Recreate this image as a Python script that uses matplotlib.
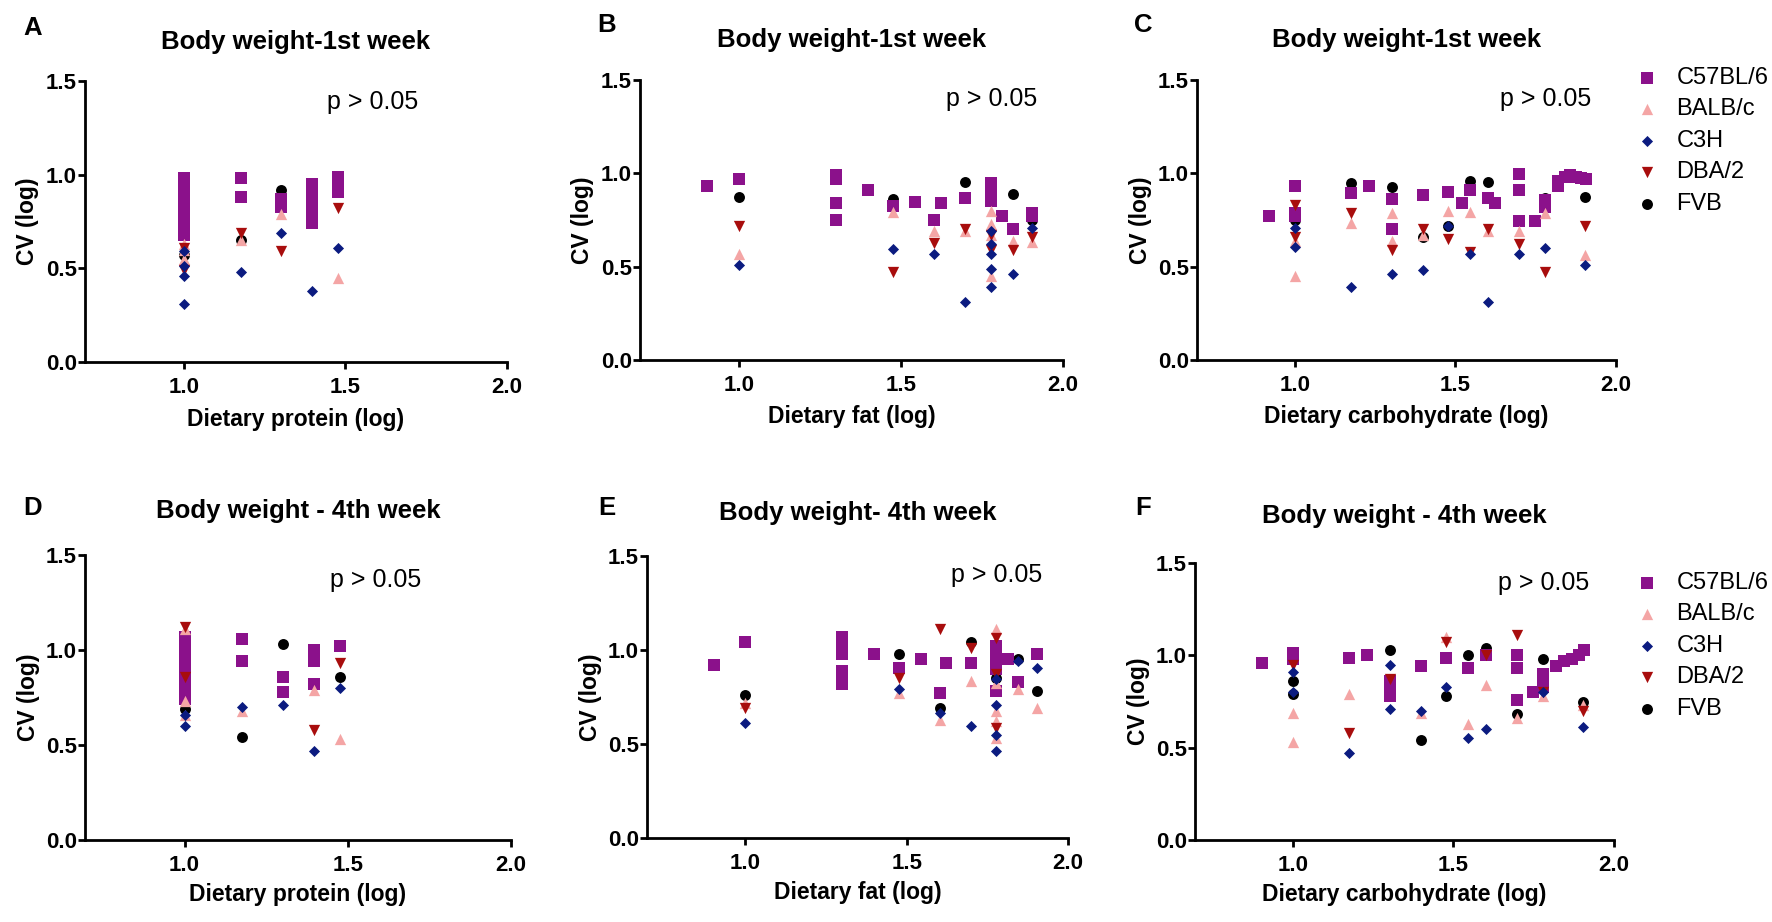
import matplotlib
matplotlib.use("Agg")
import matplotlib.pyplot as plt

plt.rcParams['font.family'] = ['Liberation Sans', 'DejaVu Sans']

W, H = 1772, 922

strains = ["C57BL/6", "BALB/c", "C3H", "DBA/2", "FVB"]
colors = {"C57BL/6": "#8B118B", "BALB/c": "#F4A5A5", "C3H": "#0B1B80",
          "DBA/2": "#A80D0D", "FVB": "#000000"}
markers = {"C57BL/6": "s", "BALB/c": "^", "C3H": "D", "DBA/2": "v", "FVB": "o"}
sizes = {"C57BL/6": 66, "BALB/c": 66, "C3H": 32, "DBA/2": 66, "FVB": 62}
zorders = {"FVB": 2, "C57BL/6": 3, "BALB/c": 4, "DBA/2": 5, "C3H": 6}

titles = ["Body weight-1st week", "Body weight-1st week", "Body weight-1st week",
          "Body weight - 4th week", "Body weight- 4th week", "Body weight - 4th week"]
xlabels = ["Dietary protein (log)", "Dietary fat (log)", "Dietary carbohydrate (log)",
           "Dietary protein (log)", "Dietary fat (log)", "Dietary carbohydrate (log)"]
letters = ["A", "B", "C", "D", "E", "F"]
p_text = "p > 0.05"
xticks = [1.0, 1.5, 2.0]
yticks = [0.0, 0.5, 1.0, 1.5]

# ---------------- Panel A (protein, week 1) ----------------
A_C57 = [(1.0, 0.98), (1.0, 0.95), (1.0, 0.92), (1.0, 0.89), (1.0, 0.86), (1.0, 0.83),
         (1.0, 0.80), (1.0, 0.77), (1.0, 0.74), (1.0, 0.71), (1.0, 0.68),
         (1.176, 0.98), (1.176, 0.88), (1.301, 0.87), (1.301, 0.83),
         (1.398, 0.95), (1.398, 0.92), (1.398, 0.89), (1.398, 0.86), (1.398, 0.83),
         (1.398, 0.80), (1.398, 0.77), (1.398, 0.74),
         (1.477, 0.99), (1.477, 0.96), (1.477, 0.93), (1.477, 0.91)]
A_BALB = [(1.0, 0.63), (1.0, 0.60), (1.0, 0.55), (1.176, 0.65), (1.301, 0.79), (1.477, 0.45)]
A_C3H = [(1.0, 0.59), (1.0, 0.51), (1.0, 0.46), (1.0, 0.31), (1.176, 0.48), (1.301, 0.69),
         (1.398, 0.38), (1.477, 0.61)]
A_DBA = [(1.0, 0.61), (1.0, 0.49), (1.176, 0.69), (1.301, 0.59), (1.477, 0.82)]
A_FVB = [(1.0, 0.57), (1.176, 0.65), (1.301, 0.92)]

# ---------------- Panel B (fat, week 1) ----------------
B_C57 = [(0.903, 0.93), (1.0, 0.97), (1.301, 0.99), (1.301, 0.97), (1.301, 0.84), (1.301, 0.75),
         (1.398, 0.91), (1.477, 0.825), (1.544, 0.845), (1.602, 0.75), (1.623, 0.84),
         (1.699, 0.87), (1.778, 0.95), (1.778, 0.93), (1.778, 0.91), (1.778, 0.89),
         (1.778, 0.87), (1.778, 0.85), (1.813, 0.77), (1.845, 0.70), (1.903, 0.785), (1.903, 0.77)]
B_BALB = [(1.0, 0.566), (1.477, 0.795), (1.602, 0.69), (1.699, 0.69), (1.778, 0.80),
          (1.778, 0.73), (1.778, 0.67), (1.778, 0.45), (1.845, 0.64), (1.903, 0.63)]
B_C3H = [(1.0, 0.51), (1.477, 0.595), (1.602, 0.57), (1.699, 0.31), (1.778, 0.69),
         (1.778, 0.62), (1.778, 0.57), (1.778, 0.49), (1.778, 0.39), (1.845, 0.46), (1.903, 0.705)]
B_DBA = [(1.0, 0.72), (1.477, 0.47), (1.602, 0.625), (1.699, 0.70), (1.778, 0.67),
         (1.778, 0.59), (1.845, 0.59), (1.903, 0.66)]
B_FVB = [(1.0, 0.875), (1.477, 0.86), (1.699, 0.955), (1.778, 0.955), (1.845, 0.89), (1.903, 0.75)]

# ---------------- Panel C (carbohydrate, week 1) ----------------
C_C57 = [(0.92, 0.77), (1.0, 0.93), (1.0, 0.785), (1.0, 0.77), (1.176, 0.896), (1.23, 0.934),
         (1.301, 0.86), (1.301, 0.70), (1.398, 0.884), (1.477, 0.90), (1.52, 0.84),
         (1.544, 0.91), (1.602, 0.87), (1.623, 0.84), (1.699, 0.995), (1.699, 0.91),
         (1.699, 0.745), (1.748, 0.745), (1.778, 0.857), (1.778, 0.82), (1.82, 0.93),
         (1.82, 0.96), (1.84, 0.98), (1.857, 0.99), (1.875, 0.98), (1.89, 0.975), (1.908, 0.97)]
C_BALB = [(1.0, 0.635), (1.0, 0.45), (1.176, 0.735), (1.301, 0.79), (1.301, 0.64), (1.398, 0.67),
          (1.477, 0.80), (1.544, 0.795), (1.602, 0.69), (1.699, 0.69), (1.778, 0.79), (1.903, 0.56)]
C_C3H = [(1.0, 0.705), (1.0, 0.607), (1.176, 0.39), (1.301, 0.46), (1.398, 0.48), (1.477, 0.72),
         (1.544, 0.57), (1.602, 0.31), (1.699, 0.57), (1.778, 0.60), (1.903, 0.51)]
C_DBA = [(1.0, 0.83), (1.0, 0.66), (1.176, 0.79), (1.301, 0.59), (1.398, 0.70), (1.477, 0.65),
         (1.544, 0.58), (1.602, 0.70), (1.699, 0.62), (1.778, 0.47), (1.903, 0.72)]
C_FVB = [(1.0, 0.75), (1.176, 0.946), (1.301, 0.925), (1.398, 0.657), (1.477, 0.72),
         (1.544, 0.96), (1.602, 0.955), (1.778, 0.87), (1.903, 0.875)]

# ---------------- Panel D (protein, week 4) ----------------
D_C57 = [(1.0, 1.07), (1.0, 1.04), (1.0, 1.01), (1.0, 0.98), (1.0, 0.95), (1.0, 0.92),
         (1.0, 0.89), (1.0, 0.86), (1.0, 0.83), (1.0, 0.80), (1.0, 0.77), (1.0, 0.74),
         (1.176, 1.06), (1.176, 0.94), (1.301, 0.86), (1.301, 0.78),
         (1.398, 1.00), (1.398, 0.97), (1.398, 0.94), (1.398, 0.82), (1.477, 1.02)]
D_BALB = [(1.0, 1.11), (1.0, 0.73), (1.0, 0.66), (1.176, 0.68), (1.398, 0.79), (1.477, 0.53)]
D_C3H = [(1.0, 0.60), (1.0, 0.66), (1.176, 0.70), (1.301, 0.71), (1.398, 0.47), (1.477, 0.80)]
D_DBA = [(1.0, 1.12), (1.0, 0.86), (1.398, 0.58), (1.477, 0.93)]
D_FVB = [(1.0, 0.69), (1.176, 0.54), (1.301, 1.03), (1.477, 0.86)]

# ---------------- Panel E (fat, week 4) ----------------
E_C57 = [(0.903, 0.92), (1.0, 1.04), (1.301, 1.07), (1.301, 1.04), (1.301, 1.01), (1.301, 0.98),
         (1.301, 0.89), (1.301, 0.86), (1.301, 0.82), (1.398, 0.98), (1.477, 0.905),
         (1.544, 0.95), (1.602, 0.77), (1.623, 0.93), (1.699, 0.93), (1.778, 1.02),
         (1.778, 0.99), (1.778, 0.96), (1.778, 0.93), (1.778, 0.90), (1.778, 0.78),
         (1.813, 0.95), (1.845, 0.83), (1.903, 0.977)]
E_BALB = [(1.0, 0.72), (1.477, 0.77), (1.602, 0.63), (1.699, 0.835), (1.778, 1.11),
          (1.778, 0.826), (1.778, 0.675), (1.778, 0.62), (1.778, 0.53), (1.845, 0.79), (1.903, 0.69)]
E_C3H = [(1.0, 0.61), (1.477, 0.79), (1.602, 0.665), (1.699, 0.595), (1.778, 0.845),
         (1.778, 0.71), (1.778, 0.55), (1.778, 0.465), (1.845, 0.94), (1.903, 0.905)]
E_DBA = [(1.0, 0.69), (1.477, 0.85), (1.602, 1.11), (1.699, 1.01), (1.778, 1.065),
         (1.778, 0.87), (1.778, 0.585)]
E_FVB = [(1.0, 0.76), (1.477, 0.98), (1.602, 0.69), (1.699, 1.04), (1.778, 0.85),
         (1.845, 0.95), (1.903, 0.78)]

# ---------------- Panel F (carbohydrate, week 4) ----------------
F_C57 = [(0.903, 0.96), (1.0, 1.01), (1.0, 0.98), (1.176, 0.985), (1.23, 1.0), (1.301, 0.86),
         (1.301, 0.82), (1.301, 0.78), (1.398, 0.94), (1.477, 0.985), (1.544, 0.93),
         (1.602, 1.0), (1.699, 1.0), (1.699, 0.93), (1.699, 0.76), (1.748, 0.80),
         (1.778, 0.90), (1.778, 0.85), (1.778, 0.83), (1.82, 0.94), (1.845, 0.97),
         (1.87, 0.98), (1.89, 1.0), (1.908, 1.03)]
F_BALB = [(1.0, 0.69), (1.0, 0.53), (1.176, 0.79), (1.398, 0.69), (1.477, 1.10), (1.544, 0.63),
          (1.602, 0.84), (1.699, 0.66), (1.778, 0.78), (1.903, 0.73)]
F_C3H = [(1.0, 0.91), (1.0, 0.80), (1.176, 0.47), (1.301, 0.95), (1.301, 0.71), (1.398, 0.70),
         (1.477, 0.83), (1.544, 0.55), (1.602, 0.60), (1.778, 0.80), (1.903, 0.61)]
F_DBA = [(1.0, 0.95), (1.176, 0.58), (1.301, 0.87), (1.477, 1.07), (1.602, 1.0), (1.699, 1.11),
         (1.778, 0.80), (1.903, 0.70)]
F_FVB = [(1.0, 0.86), (1.0, 0.79), (1.301, 1.03), (1.398, 0.54), (1.477, 0.78), (1.544, 1.0),
         (1.602, 1.04), (1.699, 0.68), (1.778, 0.98), (1.903, 0.75)]

panels_data = [
    [A_C57, A_BALB, A_C3H, A_DBA, A_FVB],
    [B_C57, B_BALB, B_C3H, B_DBA, B_FVB],
    [C_C57, C_BALB, C_C3H, C_DBA, C_FVB],
    [D_C57, D_BALB, D_C3H, D_DBA, D_FVB],
    [E_C57, E_BALB, E_C3H, E_DBA, E_FVB],
    [F_C57, F_BALB, F_C3H, F_DBA, F_FVB],
]

# layout (pixels: left, right, top, bottom of plotting area)
boxes = [(85, 507, 81, 362), (640, 1063, 80, 360), (1197, 1616, 80, 360),
         (85, 511, 555, 840), (647, 1068, 556, 838), (1195, 1614, 563, 840)]
p_pos = [(1.585, 1.39), (1.78, 1.40), (1.78, 1.40), (1.584, 1.37), (1.78, 1.40), (1.78, 1.39)]
letter_pos = [(33, 28), (607, 25), (1143, 25), (33, 508), (607, 508), (1143, 508)]
title_y = [42, 40, 40, 511, 513, 516]
legend_top = [None, None, 67, None, None, 572]

fig = plt.figure(figsize=(W / 100, H / 100), dpi=100)

for i in range(6):
    l, r, t, b = boxes[i]
    ax = fig.add_axes([l / W, 1 - b / H, (r - l) / W, (b - t) / H])
    handles = []
    for s, pts in zip(strains, panels_data[i]):
        xs = [p[0] for p in pts]
        ys = [p[1] for p in pts]
        h = ax.scatter(xs, ys, s=sizes[s], marker=markers[s], c=colors[s],
                       linewidths=0, zorder=zorders[s], label=s, clip_on=False)
        handles.append(h)
    ax.set_xlim(0.695, 2.0)
    ax.set_ylim(0.0, 1.5)
    ax.set_xticks(xticks)
    ax.set_yticks(yticks)
    ax.set_xticklabels([f"{v:.1f}" for v in xticks])
    ax.set_yticklabels([f"{v:.1f}" for v in yticks])
    for side in ["top", "right"]:
        ax.spines[side].set_visible(False)
    for side in ["left", "bottom"]:
        ax.spines[side].set_linewidth(2.0)
    ax.tick_params(axis='both', direction='out', length=5, width=2.0, labelsize=16)
    ax.tick_params(axis='x', pad=6)
    ax.tick_params(axis='y', pad=1)
    for lab in ax.get_xticklabels() + ax.get_yticklabels():
        lab.set_fontweight('bold')
    ax.set_xlabel(xlabels[i], fontsize=16.5, fontweight='bold', va='center')
    ax.set_ylabel("CV (log)", fontsize=16.5, fontweight='bold', va='center')
    hpx = b - t
    wpx = r - l
    ax.xaxis.set_label_coords(0.5, -(419 - 362) / hpx if i < 3 else -(894 - 840) / hpx)
    ax.yaxis.set_label_coords(-(57) / wpx, 0.5)
    ax.text(p_pos[i][0], p_pos[i][1], p_text, ha='center', va='center', fontsize=18)
    fig.text((l + r) / 2 / W, 1 - title_y[i] / H, titles[i], ha='center', va='center',
             fontsize=18.5, fontweight='bold')
    fig.text(letter_pos[i][0] / W, 1 - letter_pos[i][1] / H, letters[i], ha='center',
             va='center', fontsize=18.5, fontweight='bold')
    if legend_top[i] is not None:
        ax.legend(handles=handles, labels=strains, loc='upper left',
                  bbox_to_anchor=(1635 / W, 1 - legend_top[i] / H),
                  bbox_transform=fig.transFigure, frameon=False, fontsize=17,
                  handlelength=1.0, handletextpad=0.75, labelspacing=0.4,
                  borderpad=0, borderaxespad=0, scatterpoints=1)

fig.savefig("out.png", dpi=100)
